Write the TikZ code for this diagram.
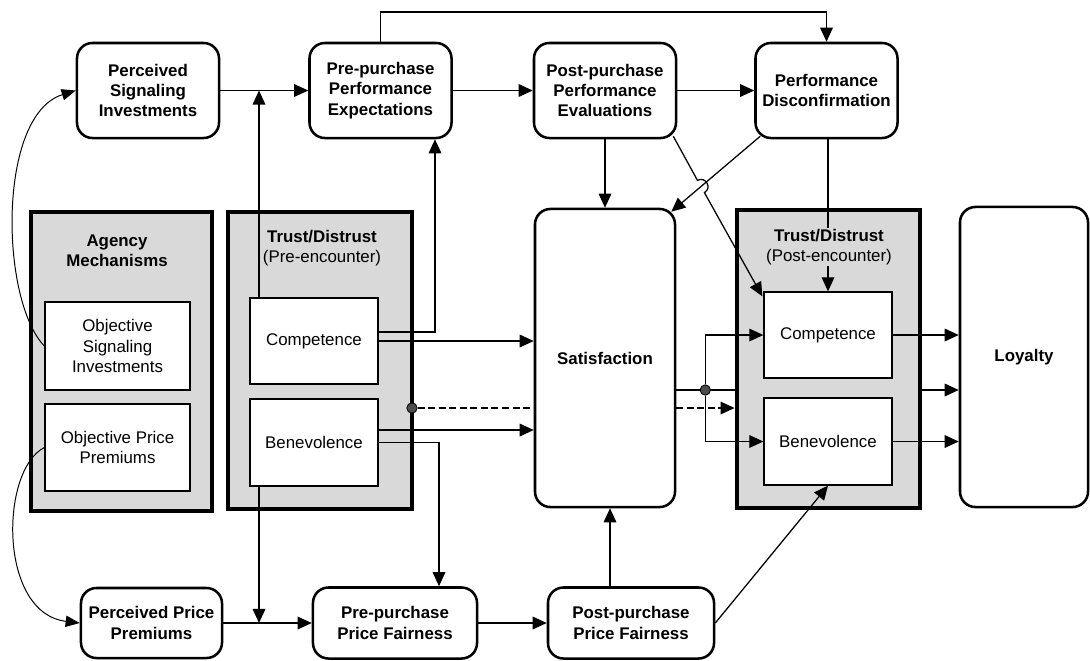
\documentclass[tikz,border=0pt]{standalone}
\usepackage{fontspec}
\setmainfont{Liberation Sans}
\usetikzlibrary{arrows.meta,positioning,calc}

\begin{document}
\begin{tikzpicture}[x=0.025cm,y=-0.025cm,font=\fontsize{12}{14.4}\selectfont,
	rbox/.style={draw,line width=1.8pt,rounded corners=11pt,align=center,inner sep=0pt,font=\fontsize{12}{14.4}\selectfont\bfseries},
	panel/.style={draw,line width=3.4pt,fill=black!15,inner sep=0pt},
	ibox/.style={draw,line width=0.9pt,fill=white,align=center,inner sep=0pt},
	ptitle/.style={align=center,fill=black!15,inner sep=1pt},
	dot/.style={circle,draw,line width=0.6pt,fill=black!70,inner sep=0pt,minimum size=0.26cm}]
	\useasboundingbox (0,0) rectangle (1090,660);

	  \node[rbox,minimum width=3.55cm,minimum height=2.375cm] (psi)    at (148,90.5)   {Perceived\\Signaling\\Investments};
	  \node[rbox,minimum width=3.55cm,minimum height=2.375cm] (ppe)    at (380.5,90.5) {Pre-purchase\\Performance\\Expectations};
	  \node[rbox,minimum width=3.55cm,minimum height=2.375cm] (ppeval) at (605,90.5)   {Post-purchase\\Performance\\Evaluations};
	  \node[rbox,minimum width=3.55cm,minimum height=2.375cm] (pd)     at (826.5,90.5) {Performance\\Disconfirmation};

	  \node[panel,minimum width=4.525cm,minimum height=7.475cm] (agency) at (121.5,361.5) {};
	  \node[panel,minimum width=4.6cm,minimum height=7.425cm]   (pre)    at (320,360.5)   {};
	  \node[panel,minimum width=4.575cm,minimum height=7.45cm]  (post)   at (828.5,359)   {};

	  \node[ibox,minimum width=3.625cm,minimum height=2.2cm]  (osi)    at (117.5,346)   {Objective\\Signaling\\Investments};
	  \node[ibox,minimum width=3.625cm,minimum height=2.175cm] (opp)   at (117.5,447.5) {Objective Price\\Premiums};
	  \node[ibox,minimum width=3.2cm,minimum height=2.15cm]   (pcomp)  at (314,341)     {Competence};
	  \node[ibox,minimum width=3.2cm,minimum height=2.175cm]  (pbenev) at (314,442.5)   {Benevolence};
	  \node[ibox,minimum width=3.2cm,minimum height=2.15cm]   (qcomp)  at (828,335)     {Competence};
	  \node[ibox,minimum width=3.2cm,minimum height=2.175cm]  (qbenev) at (828,441.5)   {Benevolence};

	  \node[rbox,minimum width=3.5cm,minimum height=7.45cm] (sat) at (605,358)  {Satisfaction};
	  \node[rbox,minimum width=3.2cm,minimum height=7.5cm]  (loy) at (1024,357) {Loyalty};

	  \node[rbox,minimum width=3.525cm,minimum height=1.75cm] (ppp)    at (151.5,623) {Perceived Price\\Premiums};
	  \node[rbox,minimum width=4.1cm,minimum height=1.775cm]  (prepf)  at (395,623)   {Pre-purchase\\Price Fairness};
	  \node[rbox,minimum width=4.15cm,minimum height=1.775cm] (postpf) at (631,623)   {Post-purchase\\Price Fairness};

	\tikzset{arr/.style={-{Triangle[length=10pt,width=9pt]},line width=0.9pt},
		curvearr/.style={-{Triangle[length=10pt,width=8pt]},line width=0.7pt}}

	  \coordinate (topy)   at (0,12);
	  \coordinate (jsig)   at (259,90.5);
	  \coordinate (jprice) at (259,623);

	\draw[arr] (ppe.north) -- (ppe.north |- topy) -| (pd.north);
	\path (psi)         edge [arr] (ppe)
		  (ppe)         edge [arr] (ppeval)
		  (ppeval)      edge [arr] (pd)
		  (ppeval)      edge [arr] (sat)
		  (ppp)         edge [arr] (prepf)
		  (prepf)       edge [arr] (postpf)
		  (postpf.east) edge [arr] (qbenev.south);

	\draw[arr] (pcomp.north -| jsig) -- (jsig);
	\draw[arr] (pbenev.south -| jprice) -- (jprice);
	\draw[arr] ($(pcomp.east)+(0,-9)$) -| ($(ppe.south)+(54.5,0)$);
	\draw[arr] (pcomp.east) -- (pcomp.east -| sat.west);
	  \coordinate (b1) at ($(pbenev.east)+(0,-12.5)$);
	\draw[arr] (b1) -- (b1 -| sat.west);
	\draw[arr] (pbenev.east) -| ($(prepf.north)+(44,0)$);

	  \node[dot] (d1) at (412,408) {};
	\draw[line width=0.9pt,dash pattern=on 5pt off 2.5pt] (d1) -- (d1 -| sat.west);
	\draw[arr,dash pattern=on 5pt off 2.5pt] (d1 -| sat.east) -- (d1 -| post.west);

	  \coordinate (s1) at ($(sat.east)+(0,32)$);
	\draw[line width=0.9pt] (s1) -- (s1 -| post.west);
	  \node[dot] (d2) at ($(s1)+(29,0)$) {};
	\draw[arr] (d2) |- (qcomp.west);
	\draw[arr] (d2) |- (qbenev.west);

	\draw[arr] ($(pd.south west)+(6,-3)$) -- ($(sat.north east)+(-5,4)$);
	\draw[arr] ($(ppeval.south east)+(-4,-3)$) -- (697.5,180.4)
		.. controls (705.6,175.8) and (712.5,188.0) .. (704.4,192.6)
		-- ($(qcomp.north west)+(-1,5)$);
	\draw[arr] (qcomp.north |- pd.south) -- (qcomp.north);

	\draw[arr] (qcomp.east) -- (qcomp.east -| loy.west);
	\draw[arr] (post.east |- s1) -- (s1 -| loy.west);
	\draw[arr] (qbenev.east) -- (qbenev.east -| loy.west);

	  \coordinate (s2) at ($(sat.south)+(5,0)$);
	\draw[arr] (postpf.north -| s2) -- (s2);

	\draw[curvearr] (osi.west) .. controls (0,300) and (-3,115) .. (psi.west);
	\draw[curvearr] (opp.west) .. controls (0,470) and (-2,613) .. (ppp.west);

	  \node[ptitle] (agtitle)  at (117,251) {\textbf{Agency}\\\textbf{Mechanisms}};
	  \node[ptitle] (pretitle) at (322,248) {\textbf{Trust/Distrust}\\(Pre-encounter)};
	  \node[ptitle] (posttitle) at (829,247) {\textbf{Trust/Distrust}\\(Post-encounter)};
\end{tikzpicture}
\end{document}
